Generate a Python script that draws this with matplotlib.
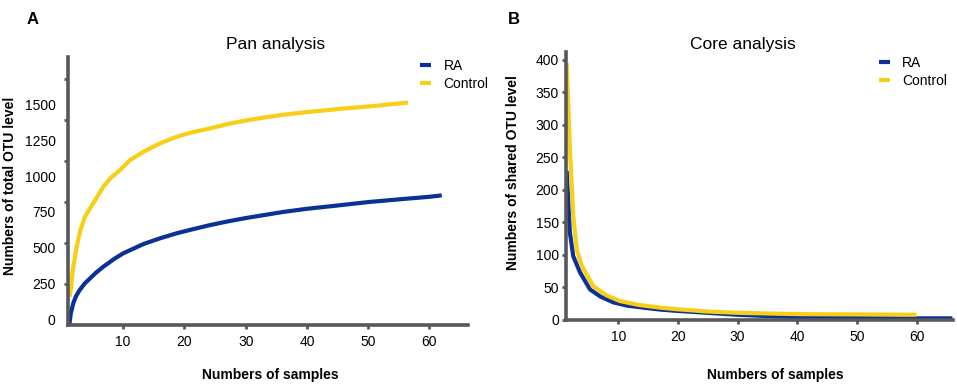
import matplotlib
matplotlib.use("Agg")
import matplotlib.pyplot as plt

plt.rcParams['font.family'] = ['Liberation Sans', 'DejaVu Sans']

# pan analysis (A)
pan_ra_x = [1.2, 1.45, 1.85, 2.3, 2.9, 3.7, 4.6, 5.6, 6.75, 8.5, 10, 13.3, 16, 18.7, 21, 24.2, 27, 30, 33, 36, 40, 45, 50, 55, 60, 62]
pan_ra_y = [-42, 40, 110, 160, 203, 248, 285, 326, 366, 420, 460, 525, 565, 600, 625, 658, 683, 707, 728, 749, 772, 795, 819, 838, 856, 866]
pan_ctrl_x = [1.3, 1.8, 2.4, 3.0, 3.76, 5.1, 6.75, 8, 9.5, 11.1, 13.3, 16, 18.7, 21, 24.2, 27, 30, 33, 36, 40, 45, 50, 56.5]
pan_ctrl_y = [156, 350, 506, 620, 716, 810, 926, 990, 1043, 1113, 1171, 1230, 1276, 1305, 1335, 1365, 1390, 1411, 1430, 1449, 1470, 1488, 1516]

# core analysis (B)
core_ra_x = [1.36, 1.9, 2.46, 3.6, 5.26, 7, 9.2, 11.5, 14.2, 17, 19.8, 25, 30, 35, 40, 50, 60, 66]
core_ra_y = [229, 134, 98, 73, 47, 36, 27, 22, 19, 16, 14, 11, 8, 6, 4.5, 3, 2.5, 2.5]
core_ctrl_x = [1.36, 1.9, 2.46, 3.03, 3.9, 5.8, 8, 10.3, 13.5, 17, 19.8, 25, 30, 35, 40, 50, 60]
core_ctrl_y = [395, 262, 160, 109, 83, 52, 38, 29, 23, 19, 16.5, 13, 11, 10, 9, 8.5, 8]

x_ticks = [10, 20, 30, 40, 50, 60]
pan_yticks = [0, 250, 500, 750, 1000, 1250, 1500]
pan_minor = [245, 532, 819, 1106, 1393, 1680]
core_yticks = [0, 50, 100, 150, 200, 250, 300, 350, 400]

BLUE = '#0b3196'
YELLOW = '#f6cf16'
SPINE = '#58585a'

fig = plt.figure(figsize=(9.57, 3.84), dpi=100)


def style(ax):
    for s in ['top', 'right']:
        ax.spines[s].set_visible(False)
    for s in ['left', 'bottom']:
        ax.spines[s].set_color(SPINE)
        ax.spines[s].set_linewidth(2.6)
    ax.tick_params(axis='both', which='both', color=SPINE, width=2, labelsize=10,
                   colors=SPINE, labelcolor='black')
    ax.tick_params(axis='x', length=3, pad=4)


# panel A
ax1 = fig.add_axes([0.0711, 0.1536, 0.418, 0.698])
ax1.plot(pan_ra_x, pan_ra_y, color=BLUE, lw=3, label='RA', solid_capstyle='butt')
ax1.plot(pan_ctrl_x, pan_ctrl_y, color=YELLOW, lw=3, label='Control', solid_capstyle='butt')
ax1.set_xlim(1, 66.3)
ax1.set_ylim(-42, 1835)
style(ax1)
ax1.set_xticks(x_ticks)
ax1.set_yticks(pan_yticks)
ax1.set_yticks(pan_minor, minor=True)
ax1.tick_params(axis='y', which='major', length=0, pad=9)
ax1.tick_params(axis='y', which='minor', length=3)
ax1.set_xlabel('Numbers of samples', fontsize=10, fontweight='bold')
ax1.xaxis.set_label_coords(0.505, -0.160)
ax1.set_ylabel('Numbers of total OTU level', fontsize=10, fontweight='bold')
ax1.yaxis.set_label_coords(-0.128, 0.52)
ax1.text(0.52, 1.045, 'Pan analysis', transform=ax1.transAxes, ha='center', va='center', fontsize=12.5)
ax1.legend(loc='upper left', bbox_to_anchor=(0.862, 1.02), frameon=False, fontsize=10,
           handlelength=0.8, handletextpad=0.9, borderpad=0, labelspacing=0.3)
fig.text(0.028, 0.948, 'A', fontsize=12, fontweight='bold', ha='left', va='center')

# panel B
ax2 = fig.add_axes([0.5914, 0.1667, 0.4044, 0.6987])
ax2.plot(core_ra_x, core_ra_y, color=BLUE, lw=3, label='RA', solid_capstyle='butt')
ax2.plot(core_ctrl_x, core_ctrl_y, color=YELLOW, lw=3, label='Control', solid_capstyle='butt')
ax2.set_xlim(1.24, 66.1)
ax2.set_ylim(0, 412)
style(ax2)
ax2.set_xticks(x_ticks)
ax2.set_yticks(core_yticks)
ax2.tick_params(axis='y', length=3, pad=2)
ax2.set_xlabel('Numbers of samples', fontsize=10, fontweight='bold')
ax2.xaxis.set_label_coords(0.54, -0.179)
ax2.set_ylabel('Numbers of shared OTU level', fontsize=10, fontweight='bold')
ax2.yaxis.set_label_coords(-0.118, 0.548)
ax2.text(0.457, 1.025, 'Core analysis', transform=ax2.transAxes, ha='center', va='center', fontsize=12.5)
ax2.legend(loc='upper left', bbox_to_anchor=(0.79, 1.01), frameon=False, fontsize=10,
           handlelength=0.8, handletextpad=0.9, borderpad=0, labelspacing=0.3)
fig.text(0.531, 0.948, 'B', fontsize=12, fontweight='bold', ha='left', va='center')

fig.savefig('out.png', dpi=100)
